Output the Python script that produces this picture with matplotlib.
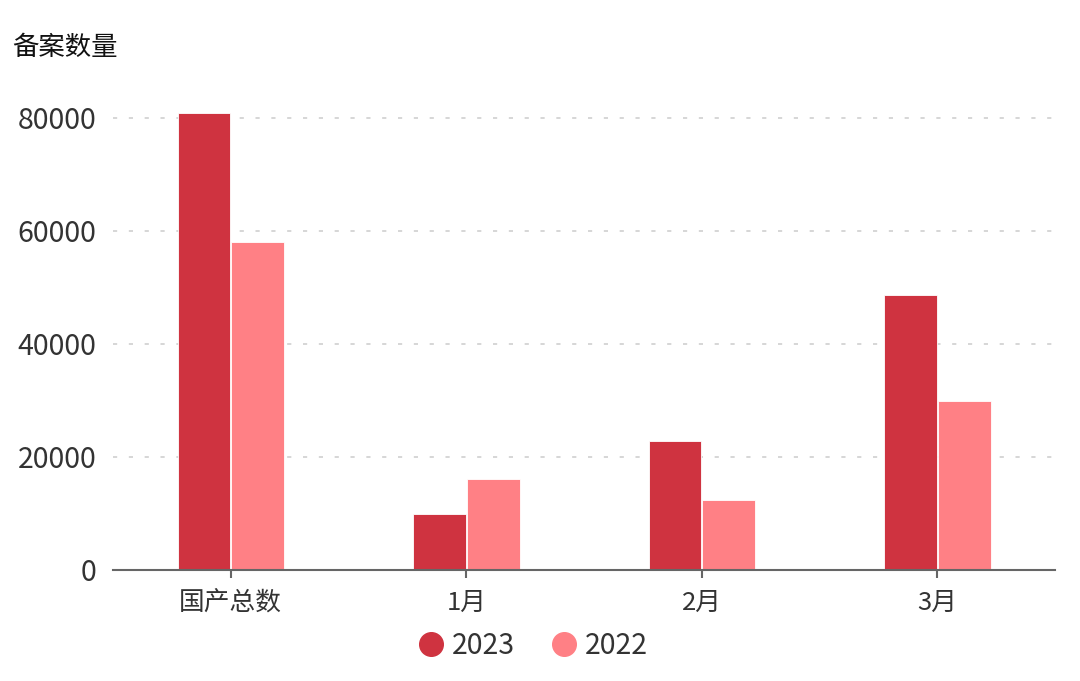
import numpy as np
import matplotlib
matplotlib.use('Agg')
import matplotlib.pyplot as plt
from matplotlib.lines import Line2D

plt.rcParams['font.family'] = ['Noto Sans CJK SC', 'DejaVu Sans']

# 数据
categories = ['国产总数', '1月', '2月', '3月']
series_names = ['2023', '2022']
values_2023 = [80800, 9800, 22700, 48600]
values_2022 = [58000, 16100, 12300, 29800]
y_ticks = [0, 20000, 40000, 60000, 80000]

color_2023 = '#CF3340'
color_2022 = '#FF8085'
text_color = '#333333'

fig = plt.figure(figsize=(10.8, 6.81), dpi=100)
ax = fig.add_axes([0.1046, 0.1637, 0.8724, 0.6963])

x = np.arange(len(categories))
w = 0.224
ax.bar(x - w / 2 - 0.002, values_2023, width=w, color=color_2023,
       edgecolor='white', linewidth=0.6, label=series_names[0], zorder=3)
ax.bar(x + w / 2 + 0.002, values_2022, width=w, color=color_2022,
       edgecolor='white', linewidth=0.6, label=series_names[1], zorder=3)

ax.set_xlim(-0.5, len(categories) - 0.5)
ax.set_ylim(0, 84000)
ax.set_yticks(y_ticks)
ax.set_yticklabels([str(v) for v in y_ticks])
ax.set_xticks(x)
ax.set_xticklabels(categories)

# 网格与坐标轴
for v in y_ticks[1:]:
    ax.axhline(v, color='#cfcfcf', linestyle=(0, (2.5, 7)), linewidth=1.2, zorder=1)
for side in ['top', 'right', 'left']:
    ax.spines[side].set_visible(False)
ax.spines['bottom'].set_color('#666666')
ax.spines['bottom'].set_linewidth(1.5)
ax.spines['bottom'].set_zorder(4)

ax.tick_params(axis='y', length=0, pad=12, labelsize=20.5, labelcolor=text_color)
ax.tick_params(axis='x', length=6, width=1.5, color='#666666', pad=9,
               labelsize=18.5, labelcolor=text_color)

fig.text(0.011, 0.93, '备案数量', fontsize=19, color='#111111', va='center', ha='left')

handles = [Line2D([0], [0], marker='o', linestyle='', markersize=17,
                  markerfacecolor=color_2023, markeredgecolor=color_2023),
           Line2D([0], [0], marker='o', linestyle='', markersize=17,
                  markerfacecolor=color_2022, markeredgecolor=color_2022)]
leg = fig.legend(handles, series_names, loc='center', bbox_to_anchor=(0.493, 0.052),
                 ncol=2, frameon=False, fontsize=20.5, handletextpad=0.25,
                 columnspacing=1.2, handlelength=1.0)
for t in leg.get_texts():
    t.set_color(text_color)

fig.savefig('out.png', dpi=100)
